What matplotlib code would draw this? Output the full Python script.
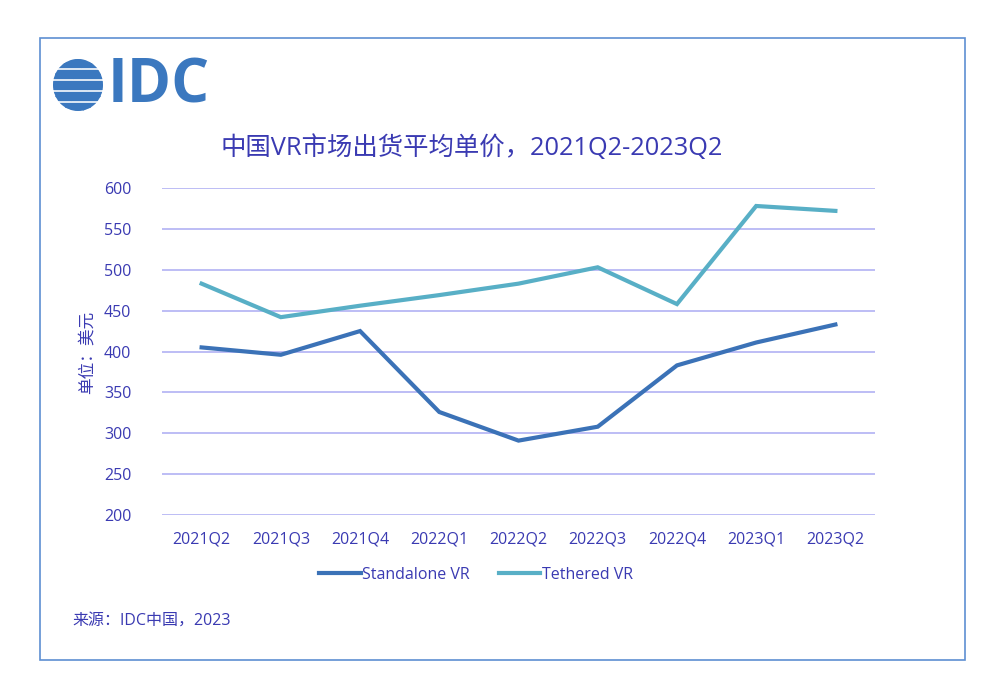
import matplotlib.pyplot as plt
from matplotlib.patches import Rectangle, Circle
from matplotlib.lines import Line2D

# DATA
quarters = ["2021Q2", "2021Q3", "2021Q4", "2022Q1", "2022Q2",
            "2022Q3", "2022Q4", "2023Q1", "2023Q2"]
standalone = [405, 396, 425, 326, 291, 308, 383, 411, 433]
tethered = [483, 442, 456, 469, 483, 503, 458, 578, 572]
yticks = [200, 250, 300, 350, 400, 450, 500, 550, 600]

TXT = "#3a3ab2"
C_STAND = "#3b72b7"
C_TETH = "#58afc6"
LOGO = "#3b78bf"

plt.rcParams['font.family'] = ['Open Sans', 'Noto Sans CJK SC', 'DejaVu Sans']


def main():
    fig = plt.figure(figsize=(10, 6.93), dpi=100)
    W, H = 1000, 693

    # outer frame
    fig.patches.append(Rectangle((40 / W, 1 - 660 / H), 925 / W, 622 / H,
                                 transform=fig.transFigure, fill=False,
                                 edgecolor="#5d8fd2", linewidth=1.2))

    # IDC logo: striped globe + letters
    lax = fig.add_axes([53 / W, 1 - 111 / H, 50 / W, 52 / H])
    lax.set_xlim(-1, 1)
    lax.set_ylim(-1, 1)
    lax.axis("off")
    clip = Circle((0, 0), 1, transform=lax.transData)
    # stripes: (bottom, top, step x, step width)
    stripes = [(-1.0, -0.7, 0.2), (-0.58, -0.26, -0.3), (-0.14, 0.16, 0.35),
               (0.28, 0.58, -0.2), (0.7, 1.0, 0.1)]
    for y0, y1, sx in stripes:
        h = y1 - y0
        lo = Rectangle((-1.2, y0), 1.2 + sx, h * 0.55, color=LOGO)
        hi = Rectangle((-1.2, y0 + h * 0.45), 2.4, h * 0.55, color=LOGO)
        rest = Rectangle((sx, y0), 1.3, h * 0.5, color=LOGO)
        for r in (lo, hi, rest):
            lax.add_patch(r)
            r.set_clip_path(clip)
    fig.text(108 / W, 1 - 87 / H, "IDC", fontsize=43, color=LOGO,
             fontweight="bold", va="center", ha="left", family="Open Sans")

    # title
    fig.text(472 / W, 1 - 148 / H, "中国VR市场出货平均单价，2021Q2-2023Q2",
             fontsize=18.3, color=TXT, ha="center", va="center")

    ax = fig.add_axes([162 / W, 1 - 515 / H, 713 / W, 327 / H])
    x = range(len(quarters))
    ax.plot(x, standalone, color=C_STAND, linewidth=3, label="Standalone VR",
            solid_joinstyle="miter")
    ax.plot(x, tethered, color=C_TETH, linewidth=3, label="Tethered VR",
            solid_joinstyle="miter")
    ax.set_xlim(-0.5, len(quarters) - 0.5)
    ax.set_ylim(200, 600)
    ax.set_yticks(yticks)
    ax.set_xticks(list(x))
    ax.set_xticklabels(quarters)
    ax.grid(axis="y", color="#bdbdf5", linewidth=1.4)
    ax.set_axisbelow(True)
    for s in ax.spines.values():
        s.set_visible(False)
    ax.tick_params(length=0, labelsize=11.5, labelcolor=TXT)
    ax.tick_params(axis="y", pad=22)
    ax.tick_params(axis="x", pad=12)

    fig.text(88 / W, 1 - 352 / H, "单位：美元", rotation=90, fontsize=12,
             color=TXT, ha="center", va="center")

    handles = [Line2D([], [], color=C_STAND, linewidth=3),
               Line2D([], [], color=C_TETH, linewidth=3)]
    fig.legend(handles, ["Standalone VR", "Tethered VR"], loc="center",
               bbox_to_anchor=(476 / W, 1 - 575 / H), ncol=2, frameon=False,
               fontsize=11.5, labelcolor=TXT, handlelength=2.6,
               handletextpad=0.1, columnspacing=1.8)

    fig.text(72 / W, 1 - 621 / H, "来源：IDC中国，2023", fontsize=11.5,
             color=TXT, ha="left", va="center")

    fig.savefig("out.png", dpi=100)


if __name__ == "__main__":
    main()
